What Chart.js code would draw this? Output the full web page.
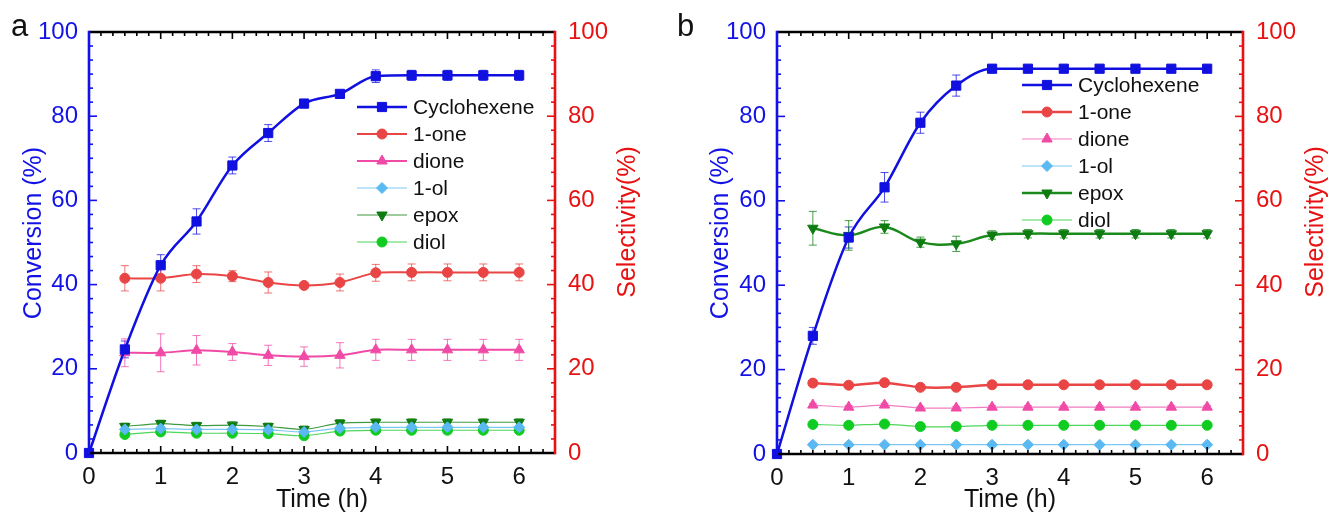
<!DOCTYPE html>
<html>
<head>
<meta charset="utf-8">
<title>Cyclohexene oxidation: conversion and selectivity vs time</title>
<script src="https://cdn.jsdelivr.net/npm/chart.js@4.4.1/dist/chart.umd.min.js"></script>
<style>
  html, body { margin: 0; padding: 0; background: #ffffff; }
  #wrap { position: relative; width: 1333px; height: 515px; overflow: hidden; }
  canvas { position: absolute; top: 0; }
</style>
</head>
<body>
<div id="wrap">
  <canvas id="panelA" width="666" height="515" style="left:0px"></canvas>
  <canvas id="panelB" width="667" height="515" style="left:666px"></canvas>
</div>
<script>
// ---- sampling times (h) and axis ticks ----
const timeConv = [0, 0.5, 1, 1.5, 2, 2.5, 3, 3.5, 4, 4.5, 5, 5.5, 6];
const timeSel  = [0.5, 1, 1.5, 2, 2.5, 3, 3.5, 4, 4.5, 5, 5.5, 6];
const xTicks = [0, 1, 2, 3, 4, 5, 6];
const yTicks = [0, 20, 40, 60, 80, 100];
const seriesNames = ['Cyclohexene', '1-one', 'dione', '1-ol', 'epox', 'diol'];
const xTitle = 'Time (h)';
const yLeftTitle = 'Conversion (%)';
const yRightTitle = 'Selectivity(%)';

// ---- panel a: conversion (%) and product selectivity (%) ----
const convA    = [0, 24.6, 44.6, 55.0, 68.3, 76.0, 83.0, 85.3, 89.5, 89.7, 89.7, 89.7, 89.7];
const convAErr = [0, 2.0, 2.5, 3.0, 2.0, 2.0, 1.0, 0.8, 1.5, 1.2, 1.2, 1.2, 1.2];
const oneA     = [41.5, 41.5, 42.5, 42.0, 40.5, 39.8, 40.5, 42.8, 42.9, 42.9, 42.9, 42.9];
const oneAErr  = [3.0, 3.0, 2.0, 1.3, 2.5, 0.6, 2.0, 2.0, 2.0, 2.0, 2.0, 2.0];
const dioneA   = [23.8, 23.8, 24.4, 24.0, 23.2, 22.9, 23.2, 24.5, 24.5, 24.5, 24.5, 24.5];
const dioneAErr= [3.3, 4.5, 3.5, 2.0, 2.4, 2.3, 3.0, 2.5, 2.5, 2.5, 2.5, 2.5];
const olA      = [5.6, 5.8, 5.6, 5.6, 5.5, 5.0, 5.9, 6.1, 6.1, 6.1, 6.1, 6.1];
const olAErr   = [0.5, 0.5, 0.5, 0.5, 0.5, 0.5, 0.5, 0.5, 0.5, 0.5, 0.5, 0.5];
const epoxA    = [6.3, 7.0, 6.5, 6.6, 6.3, 5.6, 7.1, 7.3, 7.3, 7.3, 7.3, 7.3];
const epoxAErr = [0.8, 0.8, 0.8, 0.8, 0.8, 0.8, 0.8, 0.8, 0.8, 0.8, 0.8, 0.8];
const diolA    = [4.4, 5.0, 4.7, 4.7, 4.6, 4.1, 5.2, 5.4, 5.4, 5.4, 5.4, 5.4];
const diolAErr = [0.6, 0.6, 0.6, 0.6, 0.6, 0.6, 0.6, 0.6, 0.6, 0.6, 0.6, 0.6];

// ---- panel b ----
const convB    = [0, 28.0, 51.3, 63.2, 78.5, 87.3, 91.3, 91.3, 91.3, 91.3, 91.3, 91.3, 91.3];
const convBErr = [0, 2.0, 2.5, 3.5, 2.5, 2.5, 0.8, 0.5, 0.5, 0.5, 0.5, 0.5, 0.5];
const oneB     = [16.8, 16.3, 16.9, 15.8, 15.8, 16.4, 16.4, 16.4, 16.4, 16.4, 16.4, 16.4];
const oneBErr  = [0.5, 0.5, 0.5, 0.5, 0.5, 0.5, 0.5, 0.5, 0.5, 0.5, 0.5, 0.5];
const dioneB   = [11.6, 11.1, 11.6, 10.9, 10.9, 11.1, 11.1, 11.1, 11.1, 11.1, 11.1, 11.1];
const dioneBErr= [0.4, 0.4, 0.4, 0.4, 0.4, 0.4, 0.4, 0.4, 0.4, 0.4, 0.4, 0.4];
const olB      = [2.2, 2.2, 2.2, 2.2, 2.2, 2.2, 2.2, 2.2, 2.2, 2.2, 2.2, 2.2];
const olBErr   = [0.3, 0.3, 0.3, 0.3, 0.3, 0.3, 0.3, 0.3, 0.3, 0.3, 0.3, 0.3];
const epoxB    = [53.5, 51.8, 53.8, 50.2, 49.8, 51.9, 52.2, 52.2, 52.2, 52.2, 52.2, 52.2];
const epoxBErr = [4.0, 3.5, 1.5, 1.2, 1.8, 1.0, 1.0, 1.0, 1.0, 1.0, 1.0, 1.0];
const diolB    = [7.0, 6.8, 7.1, 6.5, 6.5, 6.8, 6.8, 6.8, 6.8, 6.8, 6.8, 6.8];
const diolBErr = [0.4, 0.4, 0.4, 0.4, 0.4, 0.4, 0.4, 0.4, 0.4, 0.4, 0.4, 0.4];

// ---- styling ----
const FONT = '"Liberation Sans", Arial, Helvetica, sans-serif';
const AXIS_BLUE = '#1212e6';
const AXIS_RED = '#e81212';
const COLORS = {
  cyc:  '#1010e0',
  one:  '#ea4545',
  dione:'#f04aa6',
  ol:   '#5ab8f2',
  epox: '#0e7c10',
  diol: '#10cc20'
};

function pts(times, vals) {
  return times.map((t, i) => ({ x: t, y: vals[i] }));
}

function series(label, times, vals, errs, color, style, lineColor, lineWidth, opts) {
  return Object.assign({
    label: label,
    data: pts(times, vals),
    errors: errs,
    borderColor: lineColor,
    backgroundColor: color,
    pointBackgroundColor: color,
    pointBorderColor: color,
    pointBorderWidth: 1,
    pointStyle: style.shape,
    pointRadius: style.r,
    pointRotation: style.rot || 0,
    borderWidth: lineWidth,
    tension: 0.25,
    clip: false,
    yAxisID: 'ySel'
  }, opts || {});
}

const SHAPES = {
  square:  { shape: 'rect', r: 6.5 },
  circle:  { shape: 'circle', r: 5 },
  tri:     { shape: 'triangle', r: 6 },
  diamond: { shape: 'rectRot', r: 5.5 },
  triDown: { shape: 'triangle', r: 6, rot: 180 }
};

// Frame, inward ticks, error bars, titles, in-plot legend and panel letter
const framePlugin = {
  id: 'frame',
  beforeDatasetsDraw(chart) {
    const ctx = chart.ctx;
    chart.data.datasets.forEach((ds, di) => {
      if (!ds.errors) return;
      const meta = chart.getDatasetMeta(di);
      const yScale = chart.scales[ds.yAxisID];
      ctx.save();
      ctx.strokeStyle = ds.errorColor || ds.backgroundColor;
      ctx.globalAlpha = 0.75;
      ctx.lineWidth = 1;
      meta.data.forEach((el, i) => {
        const e = ds.errors[i];
        if (!e) return;
        const v = ds.data[i].y;
        const y1 = yScale.getPixelForValue(v + e);
        const y2 = yScale.getPixelForValue(v - e);
        const x = el.x;
        const cap = 4;
        ctx.beginPath();
        ctx.moveTo(x, y1); ctx.lineTo(x, y2);
        ctx.moveTo(x - cap, y1); ctx.lineTo(x + cap, y1);
        ctx.moveTo(x - cap, y2); ctx.lineTo(x + cap, y2);
        ctx.stroke();
      });
      ctx.restore();
    });
  },
  afterDatasetsDraw(chart, args, o) {
    const ctx = chart.ctx;
    const a = chart.chartArea;
    const xs = chart.scales.x;
    const yl = chart.scales.y;
    const yr = chart.scales.ySel;
    ctx.save();
    ctx.lineCap = 'butt';

    // ticks (inward), 5 minor ticks between majors
    const major = 7, minor = 4;
    ctx.lineWidth = 1.6;
    ctx.strokeStyle = '#000';
    for (let i = 0; i <= 39; i++) {
      const v = i / 6;
      if (v > xs.max) break;
      const px = xs.getPixelForValue(v);
      const len = (i % 6 === 0) ? major : minor;
      ctx.beginPath();
      ctx.moveTo(px, a.bottom); ctx.lineTo(px, a.bottom - len);
      ctx.moveTo(px, a.top); ctx.lineTo(px, a.top + len);
      ctx.stroke();
    }
    for (let i = 0; i <= 30; i++) {
      const v = i * 20 / 6;
      const len = (i % 6 === 0) ? major + 1 : minor;
      ctx.strokeStyle = AXIS_BLUE;
      let py = yl.getPixelForValue(v);
      ctx.beginPath(); ctx.moveTo(a.left, py); ctx.lineTo(a.left + len, py); ctx.stroke();
      ctx.strokeStyle = AXIS_RED;
      py = yr.getPixelForValue(v);
      ctx.beginPath(); ctx.moveTo(a.right, py); ctx.lineTo(a.right - len, py); ctx.stroke();
    }

    // axis lines
    ctx.lineWidth = 2.6;
    ctx.strokeStyle = '#000';
    ctx.beginPath();
    ctx.moveTo(a.left, a.top); ctx.lineTo(a.right, a.top);
    ctx.moveTo(a.left, a.bottom); ctx.lineTo(a.right, a.bottom);
    ctx.stroke();
    ctx.strokeStyle = AXIS_BLUE;
    ctx.beginPath(); ctx.moveTo(a.left, a.top - 1.3); ctx.lineTo(a.left, a.bottom + 1.3); ctx.stroke();
    ctx.strokeStyle = AXIS_RED;
    ctx.beginPath(); ctx.moveTo(a.right, a.top - 1.3); ctx.lineTo(a.right, a.bottom + 1.3); ctx.stroke();

    // axis titles
    ctx.font = '25px ' + FONT;
    ctx.textAlign = 'center';
    ctx.textBaseline = 'middle';
    ctx.fillStyle = '#111';
    ctx.fillText(xTitle, (a.left + a.right) / 2, 500);
    ctx.save();
    ctx.translate(a.left - o.leftTitleGap, 233);
    ctx.rotate(-Math.PI / 2);
    ctx.fillStyle = AXIS_BLUE;
    ctx.fillText(yLeftTitle, 0, 0);
    ctx.restore();
    ctx.save();
    ctx.translate(a.right + 73, 222);
    ctx.rotate(-Math.PI / 2);
    ctx.fillStyle = AXIS_RED;
    ctx.fillText(yRightTitle, 0, 0);
    ctx.restore();

    // panel letter
    ctx.font = '31px ' + FONT;
    ctx.textAlign = 'left';
    ctx.textBaseline = 'alphabetic';
    ctx.fillStyle = '#111';
    ctx.fillText(o.letter, o.letterX, 36);

    // legend inside the plot
    ctx.font = '21px ' + FONT;
    ctx.textBaseline = 'middle';
    chart.data.datasets.forEach((ds, i) => {
      const y = o.legendY + i * o.legendGap;
      const x0 = o.legendX, x1 = o.legendX + 50;
      ctx.strokeStyle = ds.borderColor;
      ctx.lineWidth = ds.borderWidth;
      ctx.beginPath(); ctx.moveTo(x0, y); ctx.lineTo(x1, y); ctx.stroke();
      ctx.fillStyle = ds.pointBackgroundColor;
      ctx.strokeStyle = ds.pointBorderColor;
      ctx.lineWidth = 1;
      Chart.helpers.drawPoint(ctx, {
        pointStyle: ds.pointStyle, rotation: ds.pointRotation,
        radius: ds.pointRadius, borderWidth: 1
      }, (x0 + x1) / 2, y);
      ctx.fillStyle = '#111';
      ctx.fillText(ds.label, x1 + 6, y + 1);
    });
    ctx.restore();
  }
};

function makePanel(canvas, datasets, layout) {
  const tickFont = { family: FONT, size: 24 };
  return new Chart(canvas, {
    type: 'line',
    data: { datasets: datasets },
    options: {
      responsive: false,
      animation: false,
      devicePixelRatio: 1,
      events: [],
      layout: { padding: { top: 32, left: 0, right: 0, bottom: 0 } },
      plugins: {
        legend: { display: false },
        tooltip: { enabled: false },
        frame: layout
      },
      scales: {
        x: {
          type: 'linear', min: 0, max: 6.5,
          afterBuildTicks: s => { s.ticks = xTicks.map(v => ({ value: v })); },
          afterFit: s => { s.height = layout.bottomH; },
          ticks: { color: '#111', font: tickFont, padding: 10, callback: v => String(v) },
          grid: { display: false, drawTicks: false },
          border: { display: false }
        },
        y: {
          type: 'linear', position: 'left', min: 0, max: 100,
          afterBuildTicks: s => { s.ticks = yTicks.map(v => ({ value: v })); },
          afterFit: s => { s.width = layout.leftW; },
          ticks: { color: AXIS_BLUE, font: tickFont, padding: 11, callback: v => String(v) },
          grid: { display: false, drawTicks: false },
          border: { display: false }
        },
        ySel: {
          type: 'linear', position: 'right', min: 0, max: 100,
          afterBuildTicks: s => { s.ticks = yTicks.map(v => ({ value: v })); },
          afterFit: s => { s.width = layout.rightW; },
          ticks: { color: AXIS_RED, font: tickFont, padding: 13, callback: v => String(v) },
          grid: { display: false, drawTicks: false },
          border: { display: false }
        }
      }
    },
    plugins: [framePlugin]
  });
}

// panel a
makePanel(document.getElementById('panelA'), [
  series(seriesNames[0], timeConv, convA, convAErr, COLORS.cyc, SHAPES.square, COLORS.cyc, 2.5,
         { yAxisID: 'y', cubicInterpolationMode: 'monotone' }),
  series(seriesNames[1], timeSel, oneA, oneAErr, COLORS.one, SHAPES.circle, COLORS.one, 2),
  series(seriesNames[2], timeSel, dioneA, dioneAErr, COLORS.dione, SHAPES.tri, COLORS.dione, 2),
  series(seriesNames[3], timeSel, olA, olAErr, COLORS.ol, SHAPES.diamond, '#7cc8f4', 1.2),
  series(seriesNames[4], timeSel, epoxA, epoxAErr, COLORS.epox, SHAPES.triDown, '#3f9a40', 1.2),
  series(seriesNames[5], timeSel, diolA, diolAErr, COLORS.diol, SHAPES.circle, '#4cd65a', 1.2)
], {
  leftW: 89, rightW: 111, bottomH: 62, leftTitleGap: 55,
  letter: 'a', letterX: 11,
  legendX: 357, legendY: 107, legendGap: 27
});

// panel b
makePanel(document.getElementById('panelB'), [
  series(seriesNames[0], timeConv, convB, convBErr, COLORS.cyc, SHAPES.square, COLORS.cyc, 2.5,
         { yAxisID: 'y', cubicInterpolationMode: 'monotone' }),
  series(seriesNames[1], timeSel, oneB, oneBErr, COLORS.one, SHAPES.circle, COLORS.one, 2.5),
  series(seriesNames[2], timeSel, dioneB, dioneBErr, COLORS.dione, SHAPES.tri, '#f27cc0', 1.2),
  series(seriesNames[3], timeSel, olB, olBErr, COLORS.ol, SHAPES.diamond, '#7cc8f4', 1.2),
  series(seriesNames[4], timeSel, epoxB, epoxBErr, COLORS.epox, SHAPES.triDown, '#1a8a1c', 2.5,
         { tension: 0.4 }),
  series(seriesNames[5], timeSel, diolB, diolBErr, COLORS.diol, SHAPES.circle, '#4cd65a', 1.2)
], {
  leftW: 111, rightW: 90, bottomH: 61, leftTitleGap: 56,
  letter: 'b', letterX: 11,
  legendX: 356, legendY: 85, legendGap: 27
});
</script>
</body>
</html>
